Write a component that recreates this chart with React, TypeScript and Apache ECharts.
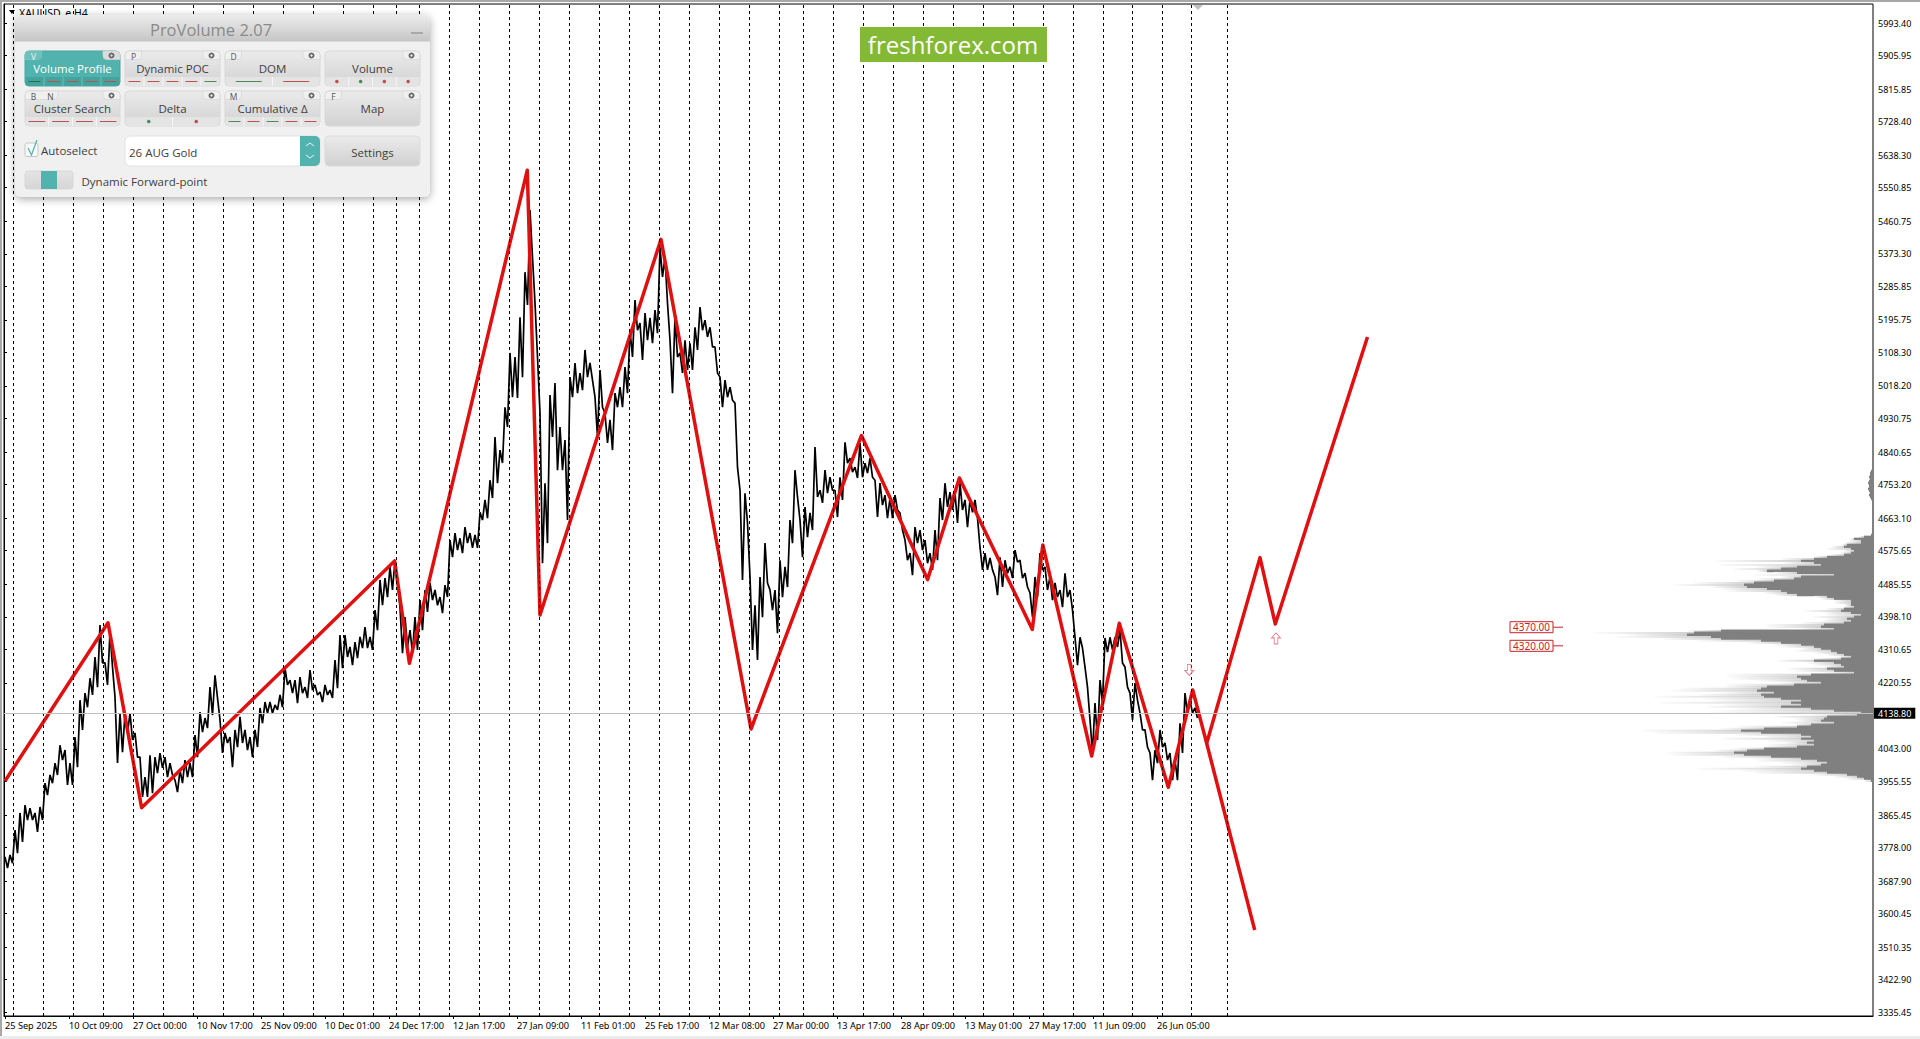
import React, { useEffect, useRef } from 'react';
import * as echarts from 'echarts';

// x axis is a bar index, one bar is about one pixel on this chart
const xMaxBar = 1869;
const priceMin = 3325.4;
const priceMax = 6044.5;
const lastPrice = 4138.8;

const yTickValues = [
  5993.4, 5905.95, 5815.85, 5728.4, 5638.3, 5550.85, 5460.75, 5373.3, 5285.85, 5195.75, 5108.3, 5018.2, 4930.75,
  4840.65, 4753.2, 4663.1, 4575.65, 4485.55, 4398.1, 4310.65, 4220.55, 4043.0, 3955.55, 3865.45, 3778.0, 3687.9,
  3600.45, 3510.35, 3422.9, 3335.45,
];

const xTickBars = [1, 65, 129, 193, 257, 321, 385, 449, 513, 577, 641, 705, 769, 833, 897, 961, 1025, 1089, 1153];
const xTickLabels = [
  '25 Sep 2025', '10 Oct 09:00', '27 Oct 00:00', '10 Nov 17:00', '25 Nov 09:00', '10 Dec 01:00', '24 Dec 17:00',
  '12 Jan 17:00', '27 Jan 09:00', '11 Feb 01:00', '25 Feb 17:00', '12 Mar 08:00', '27 Mar 00:00', '13 Apr 17:00',
  '28 Apr 09:00', '13 May 01:00', '27 May 17:00', '11 Jun 09:00', '26 Jun 05:00',
];

const periodLines = [
  9.5, 39.5, 69.5, 99.5, 129.5, 159.5, 189.5, 219.5, 249.5, 279.5, 309.5, 339.5, 369.5, 392.5, 415.5, 445.5, 475.5,
  505.5, 535.5, 565.5, 595.5, 625.5, 655.5, 685.5, 715.5, 745.5, 775.5, 799.5, 829.5, 859.5, 889.5, 919.5, 949.5,
  979.5, 1009.5, 1039.5, 1069.5, 1099.5, 1128.5, 1158.5, 1187.5, 1223.5,
];

const priceBarStep = 5;
const priceHigh = [
  3753, 3758, 3825, 3871, 3892, 3884, 3871, 3887, 3951, 3973, 4005, 4053, 4040, 4005, 4075, 4174, 4193, 4233, 4290,
  4376, 4274, 4357, 4182, 4139, 4139, 4139, 4086, 4021, 3967, 4026, 4021, 4032, 4021, 4005, 3959, 3986, 4013, 4005,
  4080, 4142, 4126, 4209, 4241, 4121, 4086, 4075, 4094, 4129, 4094, 4075, 4094, 4153, 4169, 4169, 4161, 4188, 4260,
  4228, 4228, 4236, 4209, 4255, 4215, 4196, 4215, 4201, 4282, 4349, 4349, 4317, 4330, 4344, 4370, 4344, 4416, 4497,
  4502, 4532, 4550, 4424, 4397, 4362, 4397, 4443, 4470, 4489, 4470, 4451, 4483, 4604, 4623, 4609, 4639, 4623, 4618,
  4679, 4712, 4765, 4881, 4846, 4961, 5107, 5096, 5203, 5324, 5491, 5241, 4945, 4757, 4994, 5026, 4908, 4873, 5042,
  5080, 5053, 5115, 5080, 4988, 5061, 4945, 4927, 4999, 5015, 5069, 5168, 5249, 5187, 5214, 5201, 5222, 5391, 5364,
  5141, 5203, 5107, 5141, 5133, 5176, 5230, 5195, 5176, 5123, 5042, 5034, 5015, 4972, 4738, 4730, 4505, 4429, 4505,
  4596, 4470, 4470, 4550, 4532, 4658, 4792, 4658, 4693, 4677, 4854, 4738, 4792, 4773, 4738, 4773, 4867, 4824, 4800,
  4865, 4811, 4824, 4765, 4757, 4725, 4717, 4725, 4677, 4604, 4569, 4639, 4631, 4604, 4569, 4631, 4717, 4757, 4733,
  4730, 4757, 4712, 4712, 4712, 4585, 4569, 4556, 4505, 4558, 4550, 4532, 4577, 4550, 4515, 4462, 4505, 4569, 4532,
  4505, 4489, 4470, 4515, 4470, 4343, 4343, 4263, 4121, 4166, 4228, 4341, 4343, 4343, 4362, 4263, 4193, 4220, 4139,
  4094, 4032, 4040, 4094, 4059, 4032, 4013, 4112, 4193, 4174, 4153,
];
const priceLow = [
  3723, 3736, 3763, 3793, 3852, 3852, 3820, 3852, 3919, 3951, 3973, 4013, 3946, 3946, 3994, 4094, 4155, 4188, 4209,
  4274, 4215, 4263, 4005, 4034, 4086, 4067, 4021, 3914, 3914, 3924, 3978, 3992, 3967, 3973, 3927, 3951, 3967, 3967,
  4021, 4088, 4099, 4134, 4180, 4032, 4059, 3994, 4048, 4059, 4040, 4021, 4048, 4112, 4139, 4139, 4148, 4155, 4215,
  4193, 4166, 4193, 4180, 4201, 4188, 4169, 4188, 4180, 4206, 4260, 4290, 4268, 4287, 4314, 4314, 4309, 4362, 4429,
  4451, 4470, 4489, 4300, 4317, 4300, 4309, 4362, 4411, 4443, 4429, 4408, 4451, 4558, 4577, 4569, 4596, 4583, 4583,
  4658, 4663, 4717, 4757, 4811, 4908, 4988, 4986, 5042, 5236, 5364, 5096, 4542, 4596, 4881, 4792, 4792, 4658, 4988,
  4999, 5007, 5042, 5034, 4881, 4961, 4865, 4846, 4961, 4961, 4999, 5096, 5168, 5088, 5141, 5133, 5160, 5311, 5241,
  4999, 5096, 5053, 5061, 5061, 5115, 5168, 5150, 5123, 5053, 4961, 4988, 4980, 4800, 4497, 4650, 4309, 4282, 4397,
  4489, 4416, 4354, 4451, 4478, 4596, 4720, 4558, 4612, 4631, 4720, 4704, 4730, 4738, 4666, 4712, 4811, 4787, 4771,
  4773, 4784, 4773, 4666, 4698, 4663, 4663, 4685, 4631, 4550, 4510, 4596, 4577, 4542, 4524, 4550, 4658, 4693, 4685,
  4650, 4685, 4639, 4679, 4663, 4524, 4524, 4524, 4456, 4478, 4515, 4502, 4545, 4502, 4478, 4397, 4451, 4524, 4470,
  4443, 4451, 4424, 4451, 4416, 4268, 4314, 4209, 4032, 4067, 4166, 4303, 4309, 4317, 4274, 4209, 4121, 4174, 4094,
  4048, 3959, 4005, 4048, 4013, 3959, 3959, 4032, 4139, 4139, 4126,
];

const zigzagBars = [1, 104, 137.6, 390.6, 405.4, 523.3, 536, 657, 747, 857.4, 923.6, 955.4, 1028.3, 1038.8, 1087.7, 1115.3, 1164.3, 1188.7, 1202.7, 1256, 1271.3, 1363.5];
const zigzagPrices = [3957, 4382, 3885, 4548, 4273, 5598, 4403, 5412, 4096.5, 4885, 4498, 4771, 4364, 4591, 4024, 4380.5, 3940, 4201.4, 4058, 4557, 4378.6, 5149.8];
const forkBars = [1202.7, 1250.7];
const forkPrices = [4058, 3556.5];

const levelPrices = [4370, 4320];
const arrowUp = [1272, 4340];
const arrowDown = [1185.3, 4255];

// volume profile, 2px buckets from the top price downward
const profileTopPrice = 4854.2;
const profileStep = 5.37;
const profileCore = [
  0, 0, 1, 0, 0, 1, 0, 0, 1, 0, 1, 1, 2, 3, 3, 4, 3, 4, 5, 4, 4, 5, 4, 3, 4, 3, 2, 1, 1, 0, 1, 1, 1, 1, 0, 1, 0, 1, 0,
  0, 0, 0, 0, 0,
  2, 9, 19, 12, 12, 26, 29, 22, 19, 22, 29, 46, 59, 72, 59, 52, 76, 92, 106, 76, 39, 72, 79, 99, 119, 129, 126, 106,
  92, 86, 76, 46, 39, 22, 22, 22, 19, 29, 32, 22, 12, 19, 26, 22, 29, 49, 52, 39, 152, 179, 186, 162, 152, 112, 92,
  72, 59, 52, 42, 36, 29, 22, 32, 59, 39, 32, 29, 46, 39, 19, 62, 76, 72, 66, 52, 79, 106, 112, 116, 99, 112, 109,
  92, 72, 82, 72, 92, 62, 39, 12, 16, 46, 49, 52, 39, 62, 76, 109, 132, 112, 72, 62, 72, 59, 66, 59, 76, 109, 126,
  139, 129, 102, 72, 56, 46, 52, 66, 72, 59, 46, 26, 16, 9, 2, 0,
];
const profileFringe = [
  0, 0, 1, 0, 0, 1, 0, 0, 1, 0, 1, 1, 2, 3, 3, 4, 3, 4, 5, 4, 4, 5, 4, 3, 4, 3, 2, 1, 1, 0, 1, 1, 1, 1, 0, 1, 0, 1, 0,
  0, 0, 0, 0, 0,
  2, 14, 22, 24, 29, 31, 42, 46, 29, 32, 42, 59, 92, 157, 89, 152, 116, 139, 116, 99, 119, 92, 116, 136, 179, 199,
  162, 152, 146, 109, 99, 59, 52, 39, 39, 29, 29, 46, 69, 49, 46, 59, 46, 52, 72, 106, 106, 72, 186, 279, 246, 256,
  209, 176, 126, 99, 92, 72, 79, 59, 46, 36, 62, 96, 66, 59, 49, 86, 79, 49, 146, 146, 139, 116, 92, 146, 149, 192,
  202, 152, 172, 219, 169, 159, 212, 149, 166, 136, 152, 166, 59, 99, 79, 76, 92, 79, 136, 152, 232, 219, 139, 109,
  152, 106, 89, 106, 109, 139, 159, 206, 202, 152, 119, 116, 92, 82, 119, 176, 132, 119, 59, 39, 26, 9, 0,
];

const panelTitle = 'ProVolume 2.07';
const teal = '#52b3ae';
const red = '#b8524e';
const green = '#4c8a58';

type Btn = { label: string; col: number; row: number; keys?: string[]; dash?: string[]; dots?: string[]; active?: boolean };
const panelButtons: Btn[] = [
  { label: 'Volume Profile', col: 0, row: 0, keys: ['V'], dash: ['g', 'r', 'r', 'r', 'r'], active: true },
  { label: 'Dynamic POC', col: 1, row: 0, keys: ['P'], dash: ['r', 'r', 'r', 'r', 'g'] },
  { label: 'DOM', col: 2, row: 0, keys: ['D'], dash: ['g', 'r'] },
  { label: 'Volume', col: 3, row: 0, dots: ['r', 'g', 'r', 'r'] },
  { label: 'Cluster Search', col: 0, row: 1, keys: ['B', 'N'], dash: ['r', 'r', 'r', 'r'] },
  { label: 'Delta', col: 1, row: 1, dots: ['g', 'r'] },
  { label: 'Cumulative Δ', col: 2, row: 1, keys: ['M'], dash: ['g', 'r', 'g', 'r', 'r'] },
  { label: 'Map', col: 3, row: 1, keys: ['F'] },
];

const uiFont = '"Open Sans"';
const vGrad = (a: string, b: string) => new echarts.graphic.LinearGradient(0, 0, 0, 1, [{ offset: 0, color: a }, { offset: 1, color: b }]);
const rect = (x: number, y: number, width: number, height: number, r: any, style: any) => ({ type: 'rect', z: 100, silent: true, shape: { x, y, width, height, r }, style });
const line = (x1: number, y1: number, x2: number, y2: number, stroke: string, lineWidth = 1) => ({ type: 'line', z: 100, silent: true, shape: { x1, y1, x2, y2 }, style: { stroke, lineWidth } });
const text = (x: number, y: number, t: string, size: number, fill: string, align = 'center', family = uiFont) => ({
  type: 'text', z: 100, silent: true, x, y,
  style: { text: t, fill, fontSize: size, fontFamily: family, textAlign: align, textVerticalAlign: 'middle' },
});

function buttonElements(b: Btn) {
  const x = 25 + b.col * 100;
  const y = 51 + b.row * 40;
  const w = 95;
  const h = 35;
  const out: any[] = [];
  const strip = b.dash || b.dots;
  out.push(rect(x, y, w, h, 4, {
    fill: b.active ? teal : vGrad('#ebebeb', '#d2d2d2'),
    stroke: b.active ? '#4aa5a0' : '#d8d8d8', lineWidth: 1,
  }));
  // key tabs and gear tab
  const keys = b.keys || [];
  if (keys.length) {
    const tw = keys.length * 16.5;
    out.push(rect(x, y, tw, 8.5, [4, 0, 4, 0], { fill: b.active ? '#6fc0bb' : '#f0f0f0', stroke: b.active ? '#7cc8c3' : '#d4d4d4', lineWidth: 0.7 }));
    keys.forEach((k, i) => out.push(text(x + 8.5 + i * 17, y + 5, k, 8.5, b.active ? '#e8f6f5' : '#555555')));
  }
  out.push(rect(x + w - 17, y, 17, 8.5, [0, 4, 0, 4], { fill: b.active ? '#dcdcdc' : '#f0f0f0', stroke: '#d4d4d4', lineWidth: 0.7 }));
  out.push({ type: 'ring', z: 100, silent: true, shape: { cx: x + w - 8.5, cy: y + 4.5, r: 3, r0: 1.2 }, style: { fill: '#666' } });
  out.push(text(x + w / 2, y + 17.5, b.label, 11.5, b.active ? '#ffffff' : '#404040'));
  if (strip) {
    const sy = y + 26;
    out.push(rect(x + 0.5, sy, w - 1, h - 26, [0, 0, 4, 4], { fill: b.active ? '#45a39e' : '#e4e4e4' }));
    const n = strip.length;
    const sw = w / n;
    strip.forEach((c, i) => {
      const color = c === 'g' ? green : red;
      const cx = x + sw * (i + 0.5);
      if (i > 0) out.push(line(x + sw * i, sy, x + sw * i, y + h, b.active ? '#6cc0bb' : '#f6f6f6'));
      if (b.dash) {
        const half = Math.min(sw / 2 - 3.5, 13);
        out.push(line(cx - half, sy + 4.5, cx + half, sy + 4.5, b.active && c === 'g' ? '#20704a' : color, 1));
      } else {
        out.push({ type: 'circle', z: 100, silent: true, shape: { cx, cy: sy + 4.5, r: 1.8 }, style: { fill: color } });
      }
    });
  }
  return out;
}

function panelElements() {
  const els: any[] = [];
  // window frame and symbol caption under the panel
  els.push(rect(0, 0, 1920, 2, 0, { fill: '#a8a8a8' }));
  els.push(rect(0, 0, 2, 1039, 0, { fill: '#a8a8a8' }));
  els.push(rect(0, 1036, 1920, 3, 0, { fill: '#ececec' }));
  els.push({ type: 'polygon', z: 100, silent: true, shape: { points: [[9, 10], [15, 10], [12, 14]] }, style: { fill: '#000' } });
  els.push({ type: 'polygon', z: 100, silent: true, shape: { points: [[1193, 5], [1203, 5], [1198, 10]] }, style: { fill: '#c0c0c0' } });
  els.push(text(19, 12.5, 'XAUUSD_e,H4', 10.5, '#000', 'left', '"Noto Sans"'));
  // panel body
  els.push(rect(15, 15, 415, 182, 6, { fill: '#f0f0f0', shadowBlur: 8, shadowColor: 'rgba(0,0,0,0.35)', shadowOffsetY: 2 }));
  els.push(rect(15, 15, 415, 26, [6, 6, 0, 0], { fill: vGrad('#ececec', '#c6c6c6') }));
  els.push(line(15, 41, 430, 41, '#c4c4c4'));
  els.push(text(211, 29, panelTitle, 16.5, '#8a8a8a'));
  els.push(line(411, 33, 423, 33, '#a8a8a8', 2));
  panelButtons.forEach((b) => els.push(...buttonElements(b)));
  // autoselect
  els.push(rect(25, 143, 13, 13.5, 2, { fill: '#f8f8f8', stroke: '#c8c8c8', lineWidth: 1 }));
  els.push({ type: 'polyline', z: 100, silent: true, shape: { points: [[28, 148], [31.5, 155], [37, 140]] }, style: { stroke: teal, fill: 'none', lineWidth: 1.2 } });
  els.push(text(41, 150, 'Autoselect', 11.5, '#404040', 'left'));
  // contract box with spinner
  els.push(rect(125, 136, 195, 30, 5, { fill: '#ffffff', stroke: '#e2e2e2', lineWidth: 1 }));
  els.push(rect(300, 136, 20, 30, [0, 5, 5, 0], { fill: teal }));
  els.push({ type: 'polyline', z: 100, silent: true, shape: { points: [[306, 146], [310, 143], [314, 146]] }, style: { stroke: '#e8f6f5', fill: 'none', lineWidth: 1 } });
  els.push({ type: 'polyline', z: 100, silent: true, shape: { points: [[306, 155], [310, 158], [314, 155]] }, style: { stroke: '#e8f6f5', fill: 'none', lineWidth: 1 } });
  els.push(text(129, 152, '26 AUG Gold', 11.5, '#404040', 'left'));
  els.push(rect(325, 136, 95, 30, 4, { fill: vGrad('#ebebeb', '#d0d0d0'), stroke: '#dcdcdc', lineWidth: 1 }));
  els.push(text(372.5, 152, 'Settings', 11.5, '#404040'));
  // forward-point switch
  els.push(rect(25, 171, 48, 18, 3, { fill: vGrad('#e4e4e4', '#d6d6d6'), stroke: '#d8d8d8', lineWidth: 1 }));
  els.push(rect(41, 171, 16, 18, 0, { fill: teal }));
  els.push(text(81.5, 181, 'Dynamic Forward-point', 11.5, '#404040', 'left'));
  // logo
  els.push(rect(860, 27, 187, 35, 0, { fill: '#84b935' }));
  els.push(text(953, 44, 'freshforex.com', 24, '#ffffff'));
  return els;
}

const axisFont = '"Noto Sans"';

export default function App() {
  const chartRef = useRef<HTMLDivElement>(null);

  useEffect(() => {
    if (!chartRef.current) return;
    const chart = echarts.init(chartRef.current, undefined, { renderer: 'svg' });

    const priceLine: number[][] = [];
    priceHigh.forEach((h, i) => {
      priceLine.push([1 + i * priceBarStep, h]);
      priceLine.push([1 + i * priceBarStep + priceBarStep / 2, priceLow[i]]);
    });

    const profileData = profileCore.map((c, i) => [profileTopPrice - i * profileStep, c, profileFringe[i] ?? c]);

    chart.setOption({
      animation: false,
      backgroundColor: '#ffffff',
      grid: { left: 4, top: 4, width: 1869, height: 1012, show: true, borderColor: '#000', borderWidth: 1, backgroundColor: '#fff' },
      xAxis: {
        type: 'value', min: 0, max: xMaxBar, splitLine: { show: false },
        axisLine: { show: true, lineStyle: { color: '#000' } },
        axisTick: { show: true, length: 3, inside: false, lineStyle: { color: '#000' }, customValues: xTickBars },
        axisLabel: {
          customValues: xTickBars, align: 'left', margin: 5, color: '#000', fontSize: 9.2, fontFamily: axisFont,
          formatter: (v: number) => xTickLabels[xTickBars.indexOf(v)] ?? '',
        },
      },
      yAxis: {
        type: 'value', position: 'right', min: priceMin, max: priceMax, splitLine: { show: false },
        axisLine: { show: true, lineStyle: { color: '#000' } },
        axisTick: { show: true, length: 3, lineStyle: { color: '#000' }, customValues: yTickValues },
        axisLabel: {
          customValues: yTickValues, margin: 5, color: '#000', fontSize: 9, fontFamily: axisFont,
          formatter: (v: number) => v.toFixed(2),
        },
      },
      series: [
        {
          type: 'line', name: 'periods', data: [], z: 1, silent: true,
          markLine: {
            silent: true, symbol: 'none', label: { show: false }, animation: false,
            lineStyle: { color: '#000', width: 1, type: [3, 3] },
            data: periodLines.map((v) => ({ xAxis: v })),
          },
        },
        {
          type: 'custom', name: 'profile', z: 2, silent: true, clip: true, data: profileData,
          renderItem: (_p: any, api: any) => {
            const price = api.value(0);
            const core = api.value(1);
            const fringe = api.value(2);
            const [xr, y] = api.coord([xMaxBar, price]);
            const children: any[] = [];
            if (fringe > core) {
              children.push({
                type: 'rect', shape: { x: xr - fringe, y: y - 1, width: fringe - core, height: 2 },
                style: { fill: new echarts.graphic.LinearGradient(0, 0, 1, 0, [{ offset: 0, color: '#fbfbfb' }, { offset: 1, color: '#cfcfcf' }]) },
              });
            }
            if (core > 0) children.push({ type: 'rect', shape: { x: xr - core, y: y - 1.3, width: core, height: 2.6 }, style: { fill: '#808080' } });
            return { type: 'group', children };
          },
        },
        {
          type: 'line', name: 'price', data: priceLine, showSymbol: false, symbol: 'none', z: 3, silent: true,
          lineStyle: { color: '#000', width: 1.7 },
          markLine: {
            silent: true, symbol: 'none', animation: false,
            lineStyle: { color: '#c0c0c0', width: 1, type: 'solid' },
            label: {
              show: true, position: 'end', distance: 1, formatter: lastPrice.toFixed(2), color: '#fff', backgroundColor: '#000',
              padding: [0, 4, 0, 4], fontSize: 9, fontFamily: axisFont, lineHeight: 11,
            },
            data: [{ yAxis: lastPrice }],
          },
        },
        {
          type: 'line', name: 'zigzag', data: zigzagBars.map((b, i) => [b, zigzagPrices[i]]), showSymbol: false, symbol: 'none', z: 4, silent: true,
          lineStyle: { color: '#e01010', width: 3.5, join: 'round' },
        },
        {
          type: 'line', name: 'fork', data: forkBars.map((b, i) => [b, forkPrices[i]]), showSymbol: false, symbol: 'none', z: 4, silent: true,
          lineStyle: { color: '#e01010', width: 3.5 },
        },
        {
          type: 'scatter', name: 'up', z: 5, silent: true, data: [arrowUp], symbolSize: [9, 11],
          symbol: 'path://M5 0L10 5H7V11H3V5H0Z',
          itemStyle: { color: '#fff', borderColor: '#e5697a', borderWidth: 1 },
        },
        {
          type: 'scatter', name: 'down', z: 5, silent: true, data: [arrowDown], symbolSize: [9, 11],
          symbol: 'path://M3 0H7V6H10L5 11L0 6H3Z',
          itemStyle: { color: '#fff', borderColor: '#e5697a', borderWidth: 1 },
        },
        {
          type: 'custom', name: 'levels', z: 6, silent: true, clip: false, data: levelPrices.map((p) => [1506, p]),
          renderItem: (_p: any, api: any) => {
            const [x, y] = api.coord([api.value(0), api.value(1)]);
            return {
              type: 'group',
              children: [
                { type: 'line', shape: { x1: x + 43, y1: y, x2: x + 53, y2: y }, style: { stroke: '#c8222a', lineWidth: 1 } },
                { type: 'rect', shape: { x: x, y: y - 5.5, width: 43, height: 11 }, style: { fill: '#fff', stroke: '#c8222a', lineWidth: 1 } },
                { type: 'text', x: x + 21.5, y, style: { text: api.value(1).toFixed(2), fill: '#c8222a', fontSize: 10, fontFamily: axisFont, textAlign: 'center', textVerticalAlign: 'middle' } },
              ],
            };
          },
        },
      ],
      graphic: { elements: panelElements() },
    });
    return () => chart.dispose();
  }, []);

  return <div ref={chartRef} style={{ position: 'fixed', left: 0, top: 0, width: 1920, height: 1039, background: '#fff' }} />;
}
